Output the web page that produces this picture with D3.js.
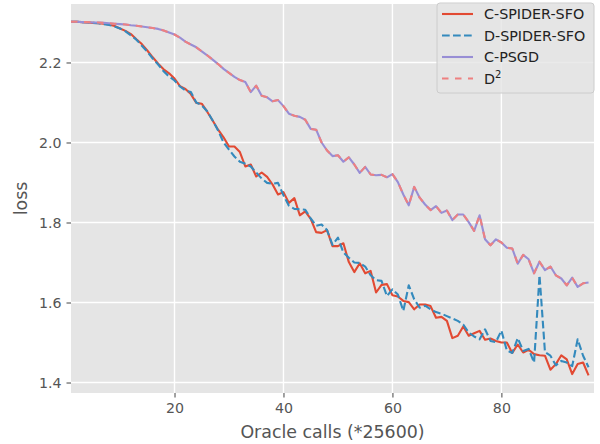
<!DOCTYPE html>
<html>
<head>
<meta charset="utf-8">
<script src="https://cdn.jsdelivr.net/npm/d3@7"></script>
<style>
  body { margin: 0; background: #fff; }
  svg { display: block; font-family: "DejaVu Sans", sans-serif; }
</style>
</head>
<body>
<div id="chart"></div>
<script>
(function () {
    'use strict';

    // oracle calls, 1..96
    var steps = d3.range(1, 97);

    var cSpider = [
        2.302, 2.302, 2.301, 2.300, 2.299, 2.298, 2.297, 2.295, 2.291, 2.285,
        2.279, 2.271, 2.258, 2.246, 2.230, 2.213, 2.197, 2.183, 2.173, 2.160,
        2.141, 2.134, 2.121, 2.099, 2.097, 2.077, 2.055, 2.032, 2.013, 1.990,
        1.990, 1.976, 1.940, 1.945, 1.915, 1.925, 1.914, 1.895, 1.870, 1.876,
        1.849, 1.861, 1.818, 1.828, 1.809, 1.776, 1.774, 1.781, 1.741, 1.741,
        1.748, 1.701, 1.676, 1.698, 1.673, 1.679, 1.625, 1.644, 1.646, 1.618,
        1.615, 1.604, 1.601, 1.583, 1.595, 1.595, 1.591, 1.562, 1.564, 1.554,
        1.511, 1.517, 1.540, 1.517, 1.523, 1.529, 1.507, 1.510, 1.504, 1.500,
        1.500, 1.474, 1.495, 1.475, 1.482, 1.471, 1.468, 1.467, 1.432, 1.446,
        1.468, 1.458, 1.421, 1.446, 1.450, 1.418
    ];

    var dSpider = [
        2.302, 2.302, 2.301, 2.300, 2.299, 2.298, 2.296, 2.294, 2.290, 2.285,
        2.278, 2.268, 2.257, 2.242, 2.227, 2.210, 2.195, 2.178, 2.165, 2.155,
        2.140, 2.130, 2.126, 2.100, 2.093, 2.078, 2.055, 2.030, 2.000, 1.982,
        1.965, 1.952, 1.947, 1.940, 1.925, 1.910, 1.899, 1.897, 1.899, 1.868,
        1.842, 1.834, 1.833, 1.832, 1.810, 1.792, 1.795, 1.781, 1.744, 1.762,
        1.725, 1.712, 1.700, 1.699, 1.690, 1.668, 1.656, 1.654, 1.616, 1.633,
        1.620, 1.579, 1.643, 1.608, 1.587, 1.592, 1.583, 1.576, 1.572, 1.566,
        1.560, 1.554, 1.545, 1.525, 1.515, 1.508, 1.533, 1.504, 1.501, 1.530,
        1.480, 1.474, 1.511, 1.479, 1.484, 1.450, 1.668, 1.476, 1.467, 1.443,
        1.454, 1.450, 1.441, 1.508, 1.467, 1.438
    ];

    var cPsgd = [
        2.302, 2.302, 2.301, 2.301, 2.300, 2.300, 2.299, 2.298, 2.297, 2.296,
        2.295, 2.293, 2.292, 2.290, 2.288, 2.286, 2.284, 2.280, 2.275, 2.270,
        2.262, 2.252, 2.245, 2.238, 2.228, 2.218, 2.207, 2.196, 2.184, 2.174,
        2.164, 2.156, 2.151, 2.126, 2.142, 2.117, 2.113, 2.103, 2.106, 2.091,
        2.072, 2.067, 2.064, 2.057, 2.034, 2.032, 2.000, 1.980, 1.966, 1.968,
        1.952, 1.963, 1.945, 1.924, 1.939, 1.920, 1.918, 1.919, 1.913, 1.921,
        1.901, 1.870, 1.843, 1.889, 1.862, 1.845, 1.831, 1.841, 1.824, 1.830,
        1.806, 1.820, 1.820, 1.801, 1.779, 1.818, 1.758, 1.743, 1.758, 1.750,
        1.737, 1.735, 1.697, 1.719, 1.708, 1.673, 1.702, 1.681, 1.690, 1.668,
        1.660, 1.643, 1.662, 1.639, 1.648, 1.650
    ];

    var dSquared = [
        2.302, 2.302, 2.301, 2.301, 2.300, 2.300, 2.299, 2.298, 2.297, 2.296,
        2.295, 2.293, 2.292, 2.290, 2.288, 2.286, 2.284, 2.280, 2.275, 2.270,
        2.262, 2.252, 2.245, 2.238, 2.228, 2.218, 2.207, 2.196, 2.184, 2.174,
        2.164, 2.156, 2.151, 2.126, 2.142, 2.117, 2.113, 2.103, 2.106, 2.091,
        2.072, 2.067, 2.064, 2.057, 2.034, 2.032, 2.000, 1.980, 1.966, 1.968,
        1.952, 1.963, 1.945, 1.924, 1.939, 1.920, 1.918, 1.919, 1.913, 1.921,
        1.901, 1.870, 1.843, 1.889, 1.862, 1.845, 1.831, 1.841, 1.824, 1.830,
        1.806, 1.820, 1.820, 1.801, 1.779, 1.818, 1.758, 1.743, 1.758, 1.750,
        1.737, 1.735, 1.697, 1.719, 1.708, 1.673, 1.702, 1.681, 1.690, 1.668,
        1.660, 1.643, 1.662, 1.639, 1.648, 1.650
    ];

    var xTicks = [20, 40, 60, 80];
    var yTicks = [1.4, 1.6, 1.8, 2.0, 2.2];

    var series = [
        {name: 'C-SPIDER-SFO', values: cSpider, color: '#E24A33', dash: null},
        {name: 'D-SPIDER-SFO', values: dSpider, color: '#348ABD', dash: '7.7,3.3'},
        {name: 'C-PSGD', values: cPsgd, color: '#988ED5', dash: null},
        {name: 'D', sup: '2', values: dSquared, color: '#EE8080', dash: '6.5,6.5'}
    ];

    var width = 600, height = 444;
    var margin = {top: 4, right: 6, bottom: 51, left: 71};
    var w = width - margin.left - margin.right,
        h = height - margin.top - margin.bottom;

    var svg = d3.select('#chart').append('svg')
        .attr('width', width)
        .attr('height', height);

    var g = svg.append('g')
        .attr('transform', 'translate(' + margin.left + ',' + margin.top + ')');

    var x = d3.scaleLinear().domain([1, 97]).range([0, w]);

    // matplotlib style 5% margins on the data range
    var all = cSpider.concat(dSpider, cPsgd, dSquared);
    var lo = d3.min(all), hi = d3.max(all), pad = (hi - lo) * 0.05;
    var y = d3.scaleLinear().domain([lo - pad, hi + pad]).range([h, 0]);

    g.append('rect')
        .attr('width', w)
        .attr('height', h)
        .attr('fill', '#E5E5E5');

    // grid
    g.selectAll('.xgrid').data(xTicks).enter().append('line')
        .attr('x1', d => x(d)).attr('x2', d => x(d))
        .attr('y1', 0).attr('y2', h)
        .attr('stroke', '#fff').attr('stroke-width', 1.4);
    g.selectAll('.ygrid').data(yTicks).enter().append('line')
        .attr('y1', d => y(d)).attr('y2', d => y(d))
        .attr('x1', 0).attr('x2', w)
        .attr('stroke', '#fff').attr('stroke-width', 1.4);

    // axes
    var xAxis = g.append('g')
        .attr('transform', 'translate(0,' + h + ')')
        .call(d3.axisBottom(x).tickValues(xTicks).tickSize(4.5).tickPadding(5).tickFormat(d3.format('d')));
    var yAxis = g.append('g')
        .call(d3.axisLeft(y).tickValues(yTicks).tickSize(4.5).tickPadding(5).tickFormat(d3.format('.1f')));

    [xAxis, yAxis].forEach(function (a) {
        a.select('.domain').remove();
        a.selectAll('.tick line').attr('stroke', '#555').attr('stroke-width', 1.1);
        a.selectAll('.tick text')
            .attr('fill', '#555')
            .style('font-size', '14.2px')
            .style('font-family', '"DejaVu Sans", sans-serif');
    });

    svg.append('text')
        .attr('x', margin.left + w / 2)
        .attr('y', 438)
        .attr('text-anchor', 'middle')
        .attr('fill', '#555')
        .style('font-size', '17.4px')
        .text('Oracle calls (*25600)');

    svg.append('text')
        .attr('transform', 'translate(27,' + (margin.top + h / 2) + ') rotate(-90)')
        .attr('text-anchor', 'middle')
        .attr('fill', '#555')
        .style('font-size', '17.4px')
        .text('loss');

    // lines
    g.append('clipPath').attr('id', 'plotClip')
        .append('rect').attr('width', w).attr('height', h);

    var line = d3.line()
        .x((d, i) => x(steps[i]))
        .y(d => y(d));

    g.append('g').attr('clip-path', 'url(#plotClip)')
        .selectAll('path').data(series).enter().append('path')
        .attr('d', d => line(d.values))
        .attr('fill', 'none')
        .attr('stroke', d => d.color)
        .attr('stroke-width', 2.1)
        .attr('stroke-dasharray', d => d.dash)
        .attr('stroke-linejoin', 'round');

    // legend
    var leg = svg.append('g').attr('transform', 'translate(437,3)');
    leg.append('rect')
        .attr('width', 157).attr('height', 90)
        .attr('rx', 3).attr('ry', 3)
        .attr('fill', '#E5E5E5').attr('fill-opacity', 0.8)
        .attr('stroke', '#CCCCCC').attr('stroke-width', 1);

    var item = leg.selectAll('.item').data(series).enter().append('g')
        .attr('transform', (d, i) => 'translate(0,' + (11 + i * 21.5) + ')');
    item.append('line')
        .attr('x1', 5).attr('x2', 36)
        .attr('stroke', d => d.color)
        .attr('stroke-width', 2.1)
        .attr('stroke-dasharray', d => d.dash);
    var lab = item.append('text')
        .attr('x', 47).attr('y', 5)
        .attr('fill', '#222')
        .style('font-size', '14.3px')
        .text(d => d.name);
    lab.filter(d => d.sup).append('tspan')
        .attr('dy', -6)
        .style('font-size', '10px')
        .text(d => d.sup);
}());
</script>
</body>
</html>
